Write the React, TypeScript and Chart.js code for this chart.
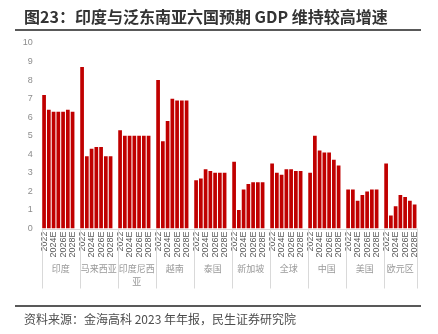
import React, { useEffect, useRef } from "react";
import { Chart, registerables } from "chart.js";

Chart.register(...registerables);

const groups = ["印度", "马来西亚", "印度尼西亚", "越南", "泰国", "新加坡", "全球", "中国", "美国", "欧元区"];
const years = ["2022", "2023", "2024E", "2025E", "2026E", "2027E", "2028E"];
const shownYears = ["2022", "2024E", "2026E", "2028E"];

const india = [7.2, 6.4, 6.3, 6.3, 6.3, 6.4, 6.3];
const malaysia = [8.7, 3.9, 4.3, 4.4, 4.4, 3.9, 3.9];
const indonesia = [5.3, 5.0, 5.0, 5.0, 5.0, 5.0, 5.0];
const vietnam = [8.0, 4.7, 5.8, 7.0, 6.9, 6.9, 6.9];
const thailand = [2.6, 2.7, 3.2, 3.1, 3.0, 3.0, 3.0];
const singapore = [3.6, 1.0, 2.1, 2.4, 2.5, 2.5, 2.5];
const world = [3.5, 3.0, 2.9, 3.2, 3.2, 3.1, 3.1];
const china = [3.0, 5.0, 4.2, 4.1, 4.1, 3.7, 3.4];
const usa = [2.1, 2.1, 1.5, 1.8, 2.0, 2.1, 2.1];
const euro = [3.5, 0.7, 1.2, 1.8, 1.7, 1.5, 1.3];

const yTicks = [0, 1, 2, 3, 4, 5, 6, 7, 8, 9, 10];

const title = "图23：印度与泛东南亚六国预期 GDP 维持较高增速";
const source = "资料来源：金海高科 2023 年年报，民生证券研究院";

const seriesByGroup = [india, malaysia, indonesia, vietnam, thailand, singapore, world, china, usa, euro];

const labels: string[] = [];
const values: (number | null)[] = [];
const groupStart: number[] = [];
seriesByGroup.forEach((s, g) => {
  groupStart.push(labels.length);
  years.forEach((y, i) => {
    labels.push(y);
    values.push(s[i]);
  });
  if (g < seriesByGroup.length - 1) {
    labels.push("");
    values.push(null);
  }
});

const CJK = '"Noto Sans CJK SC", "Noto Sans", sans-serif';

const decor = {
  id: "decor",
  afterDraw(chart: any) {
    const ctx = chart.ctx;
    const x = chart.scales.x;
    const area = chart.chartArea;
    const n = labels.length;
    const slot = (x.right - x.left) / n;
    ctx.save();
    ctx.fillStyle = "#d9d9d9";
    ctx.fillRect(x.left, Math.round(area.bottom), x.right - x.left, 1);
    const bounds = groupStart.map((s) => x.getPixelForValue(s) - slot / 2);
    bounds.push(x.getPixelForValue(n - 1) + slot / 2);
    bounds.forEach((bx) => {
      ctx.fillRect(Math.round(bx), area.bottom, 1, 60);
    });
    ctx.fillStyle = "#999999";
    ctx.font = `9px ${CJK}`;
    ctx.textAlign = "center";
    ctx.textBaseline = "middle";
    groups.forEach((g, i) => {
      const cx = (bounds[i] + bounds[i + 1]) / 2;
      const lines: string[] = [];
      for (let k = 0; k < g.length; k += 4) lines.push(g.slice(k, k + 4));
      lines.forEach((ln, j) => ctx.fillText(ln, cx, 269 + j * 13));
    });
    ctx.restore();
  },
};

export default function App() {
  const ref = useRef<HTMLCanvasElement>(null);
  useEffect(() => {
    if (!ref.current) return;
    const chart = new Chart(ref.current, {
      type: "bar",
      data: {
        labels,
        datasets: [
          {
            data: values,
            backgroundColor: "#C00000",
            barPercentage: 0.78,
            categoryPercentage: 1,
          },
        ],
      },
      options: {
        responsive: false,
        animation: false,
        devicePixelRatio: 1,
        layout: { padding: { left: 0, right: 21, top: 43, bottom: 45 } },
        plugins: { legend: { display: false }, tooltip: { enabled: false } },
        scales: {
          x: {
            offset: true,
            grid: { display: false, drawTicks: false },
            border: { display: false },
            ticks: {
              autoSkip: false,
              minRotation: 90,
              maxRotation: 90,
              padding: 3,
              color: "#595959",
              font: { size: 9, family: '"Liberation Sans", Arial, sans-serif' },
              callback: (_v: any, i: number) => (shownYears.includes(labels[i]) ? labels[i] : ""),
            },
            afterFit: (s: any) => {
              s.height = 60.5;
            },
          },
          y: {
            min: yTicks[0],
            max: yTicks[yTicks.length - 1],
            grid: { display: false, drawTicks: false },
            border: { display: false },
            ticks: {
              stepSize: 1,
              padding: 9,
              color: "#8c8c8c",
              font: { size: 9, family: '"Liberation Sans", Arial, sans-serif' },
            },
            afterFit: (s: any) => {
              s.width = 41.7;
            },
          },
        },
      },
      plugins: [decor],
    });
    return () => chart.destroy();
  }, []);
  const abs = { position: "absolute" as const };
  return (
    <div style={{ position: "absolute", left: 0, top: 0, width: 438, height: 334, background: "#fff" }}>
      <canvas ref={ref} width={438} height={334} style={{ ...abs, left: 0, top: 0 }} />
      <div
        style={{
          ...abs,
          left: 15,
          top: 4,
          width: 406,
          height: 27,
          borderBottom: "2px solid #595959",
          boxSizing: "border-box",
        }}
      />
      <div
        style={{
          ...abs,
          left: 24,
          top: 4,
          font: `bold 16px ${CJK}`,
          color: "#333333",
          lineHeight: "24px",
          whiteSpace: "nowrap",
        }}
      >
        {title}
      </div>
      <div style={{ ...abs, left: 15, top: 305, width: 406, height: 2, background: "#595959" }} />
      <div
        style={{
          ...abs,
          left: 24,
          top: 310,
          font: `12px ${CJK}`,
          color: "#4d4d4d",
          lineHeight: "18px",
          whiteSpace: "nowrap",
        }}
      >
        {source}
      </div>
    </div>
  );
}
